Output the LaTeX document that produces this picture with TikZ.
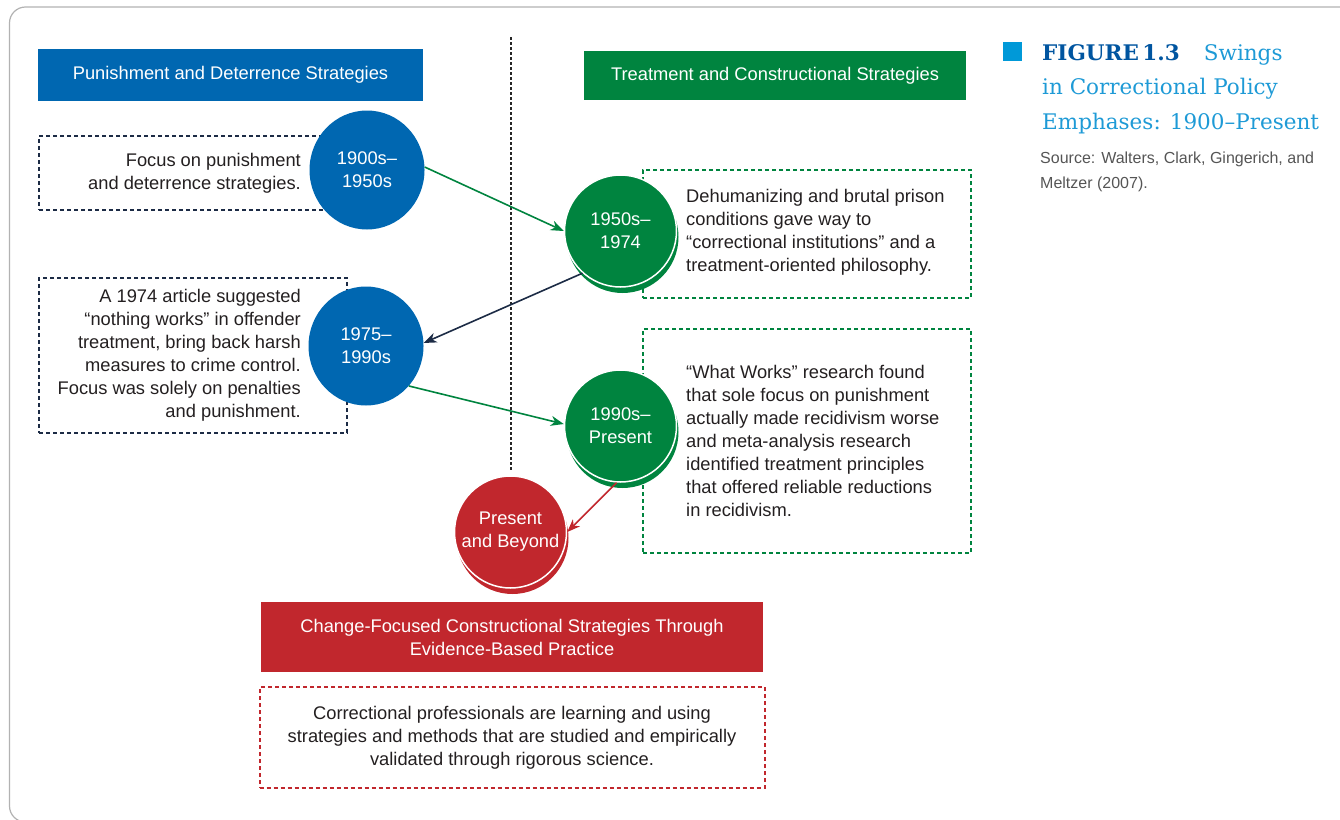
\documentclass[tikz,border=0pt]{standalone}
\usepackage{xcolor}
\usepackage{fontspec}
\setmainfont{Liberation Sans}
\newfontfamily\slabfont{DejaVu Serif}
\usepackage{tikz}
\usetikzlibrary{shapes.geometric, arrows, arrows.meta, positioning, shadows}

\definecolor{pblue}{RGB}{0,103,177}
\definecolor{tgreen}{RGB}{0,132,63}
\definecolor{cred}{RGB}{193,39,45}
\definecolor{navy}{RGB}{28,43,69}
\definecolor{figblue}{RGB}{0,85,160}
\definecolor{swingblue}{RGB}{30,154,214}
\definecolor{markblue}{RGB}{0,153,216}
\definecolor{srcgray}{RGB}{85,85,85}
\definecolor{ink}{RGB}{35,31,32}

\begin{document}
\begin{tikzpicture}[x=1pt, y=-1pt]
\tikzstyle{headbox} = [rectangle, inner sep=0pt, text=white, font=\fontsize{18.3}{23}\selectfont, align=center]
\tikzstyle{notebox} = [rectangle, draw, line width=2pt, dash pattern=on 4pt off 3pt]
\tikzstyle{notetext} = [inner sep=0pt, text=ink, font=\fontsize{18.3}{23}\selectfont]
\tikzstyle{era} = [ellipse, fill=pblue, inner sep=0pt, minimum width=115pt, minimum height=119pt, text=white, font=\fontsize{18.3}{23}\selectfont, align=center]
\tikzstyle{disc} = [circle, draw=white, line width=1.5pt, inner sep=0pt, minimum size=112pt, text=white, font=\fontsize{18.3}{23}\selectfont, align=center]
\tikzstyle{gdisc} = [disc, fill=tgreen, drop shadow={shadow xshift=2pt, shadow yshift=-6pt, opacity=1, fill=tgreen}]
\tikzstyle{rdisc} = [disc, fill=cred, drop shadow={shadow xshift=2pt, shadow yshift=-6pt, opacity=1, fill=cred}]
\tikzstyle{link} = [line width=1.6pt, -{Stealth[length=13pt, width=10pt, inset=4pt]}]

\useasboundingbox (0,0) rectangle (1340,819);
\draw [gray!60, line width=1.2pt, rounded corners=16pt] (9.5,7) rectangle (1360,822);

% divider
\coordinate (divtop) at (511,37);
\coordinate (divbot) at (511,470);
\draw [black!85, line width=2pt, dash pattern=on 2.5pt off 2.5pt] (divtop) -- (divbot);

% headers
\node (punhead) [headbox, fill=pblue, minimum width=385pt, minimum height=52pt] at (230.5,75) {Punishment and Deterrence Strategies};
\node (trthead) [headbox, fill=tgreen, minimum width=382pt, minimum height=49pt] at (775,75.5) {Treatment and Constructional Strategies};
\node (chghead) [headbox, fill=cred, minimum width=502pt, minimum height=70pt] at (512,637) {Change-Focused Constructional Strategies Through\\Evidence-Based Practice};

% notes
\node (pun1) [notebox, draw=navy, minimum width=308pt, minimum height=74pt] at (193,173) {};
\node (pun1txt) [notetext, anchor=east, align=right] at ([xshift=-47pt]pun1.east) {Focus on punishment\\and deterrence strategies.};

\node (pun2) [notebox, draw=navy, minimum width=308pt, minimum height=155pt] at (193,355.5) {};
\node (pun2txt) [notetext, anchor=east, align=right] at ([xshift=-47pt]pun2.east) {A 1974 article suggested\\“nothing works” in offender\\treatment, bring back harsh\\measures to crime control.\\Focus was solely on penalties\\and punishment.};

\node (trt1) [notebox, draw=tgreen, minimum width=328pt, minimum height=128pt] at (807,234) {};
\node (trt1txt) [notetext, anchor=west, align=left] at ([xshift=44pt, yshift=1.5pt]trt1.west) {Dehumanizing and brutal prison\\conditions gave way to\\“correctional institutions” and a\\treatment-oriented philosophy.};

\node (trt2) [notebox, draw=tgreen, minimum width=328pt, minimum height=224pt] at (807,441) {};
\node (trt2txt) [notetext, anchor=west, align=left] at ([xshift=44pt]trt2.west) {“What Works” research found\\that sole focus on punishment\\actually made recidivism worse\\and meta-analysis research\\identified treatment principles\\that offered reliable reductions\\in recidivism.};

\node (chg) [notebox, draw=cred, minimum width=505pt, minimum height=101pt] at (512,737.5) {};
\node (chgtxt) [notetext, align=center] at (chg.center) {Correctional professionals are learning and using\\strategies and methods that are studied and empirically\\validated through rigorous science.};

% eras
\node (c1) [era] at (367,170) {1900s–\\1950s};
\node (c2) [era] at (366,346) {1975–\\1990s};
\node (c3) [gdisc] at (620.5,231) {1950s–\\1974};
\node (c4) [gdisc] at (620.5,426) {1990s–\\Present};
\node (c5) [rdisc] at (510.5,532) {Present\\and Beyond};

\draw [link, tgreen] (c1.3) -- (c3.west);
\draw [link, navy] (c3.228) -- (c2.3);
\draw [link, tgreen] (c2.317) -- (c4.178);
\draw [link, cred] (c4.266) -- (c5.east);

% caption
\node (mark) [rectangle, fill=markblue, inner sep=0pt, minimum size=19pt] at (1012.5,51) {};
\node (fig) [anchor=north west, inner sep=0pt, align=left, text=swingblue, font=\slabfont\fontsize{21.5}{34.5}\selectfont] at (1042,44) {\textcolor{figblue}{\textbf{FIGURE\,1.3}}\hspace{24pt}Swings\\in Correctional Policy\\Emphases: 1900–Present};
\node (src) [anchor=north west, inner sep=0pt, align=left, text=srcgray, font=\fontsize{16}{25}\selectfont] at (1040,152) {Source: Walters, Clark, Gingerich, and\\Meltzer (2007).};
\end{tikzpicture}
\end{document}
